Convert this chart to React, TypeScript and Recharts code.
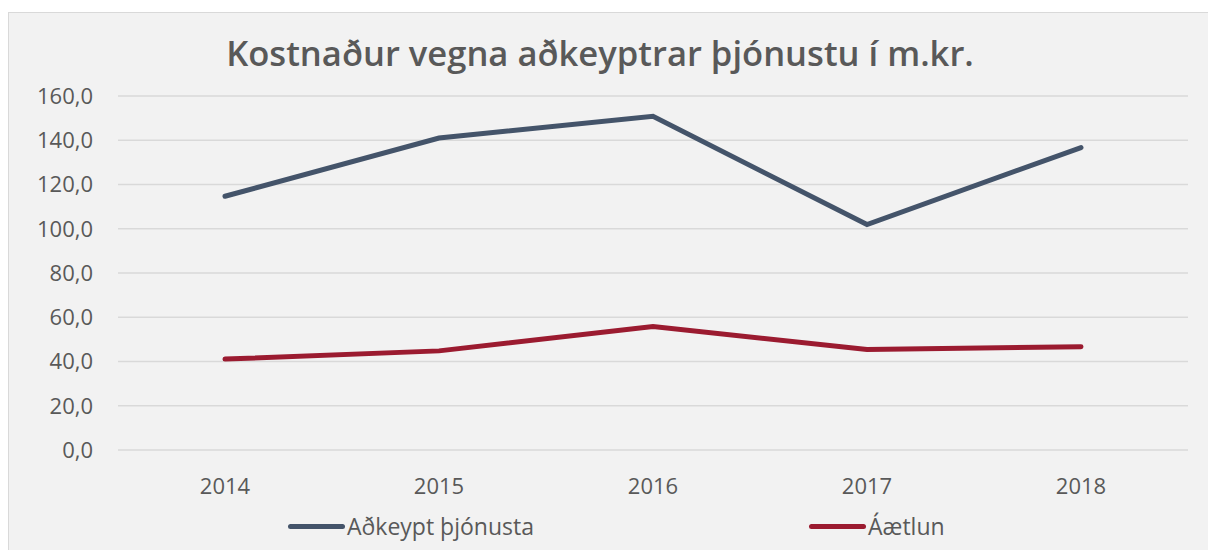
import React from 'react'
import { LineChart, Line, XAxis, YAxis, CartesianGrid } from 'recharts'

const years = ['2014', '2015', '2016', '2017', '2018']
const adkeypt = [114.7, 141.0, 150.8, 101.9, 136.7]
const aaetlun = [41.1, 44.8, 55.8, 45.4, 46.7]
const yTicks = [0, 20, 40, 60, 80, 100, 120, 140, 160]
const seriesNames = ['Aðkeypt þjónusta', 'Áætlun']

const BLUE = '#44546a'
const RED = '#9b1b30'
const TEXT = '#595959'
const FONT = '"Open Sans", "Noto Sans", sans-serif'

const data = years.map((y, i) => ({ year: y, adkeypt: adkeypt[i], aaetlun: aaetlun[i] }))

const legendItems = [
  { name: seriesNames[0], color: BLUE, left: 288 },
  { name: seriesNames[1], color: RED, left: 809 },
]

export default function App() {
  return (
    <div style={{ position: 'absolute', left: 0, top: 0, width: 1208, height: 550, background: '#fff', overflow: 'hidden' }}>
      <div
        style={{
          position: 'absolute',
          left: 8,
          top: 12,
          width: 1210,
          height: 545,
          background: '#f2f2f2',
          border: '1px solid #d9d9d9',
        }}
      />
      <div
        style={{
          position: 'absolute',
          left: 0,
          width: 1200,
          top: 29,
          textAlign: 'center',
          fontFamily: FONT,
          fontWeight: 600,
          fontSize: 34.6,
          lineHeight: '48px',
          color: TEXT,
          whiteSpace: 'nowrap',
        }}
      >
        Kostnaður vegna aðkeyptrar þjónustu í m.kr.
      </div>
      <div style={{ position: 'absolute', left: 0, top: 0 }}>
        <LineChart width={1208} height={550} data={data} margin={{ top: 96, right: 20, bottom: 70, left: 0 }}>
          <CartesianGrid vertical={false} stroke="#d9d9d9" strokeWidth={1.5} />
          <XAxis
            dataKey="year"
            height={30}
            axisLine={false}
            tickLine={false}
            tickMargin={22}
            padding={{ left: 107, right: 107 }}
            tick={{ fill: TEXT, fontSize: 22, fontFamily: FONT }}
          />
          <YAxis
            width={118}
            domain={[0, 160]}
            ticks={yTicks}
            axisLine={false}
            tickLine={false}
            tickMargin={19}
            tickFormatter={(v: number) => v.toFixed(1).replace('.', ',')}
            tick={{ fill: TEXT, fontSize: 22, fontFamily: FONT }}
          />
          <Line
            dataKey="adkeypt"
            name={seriesNames[0]}
            stroke={BLUE}
            strokeWidth={5}
            dot={false}
            strokeLinecap="round"
            isAnimationActive={false}
          />
          <Line
            dataKey="aaetlun"
            name={seriesNames[1]}
            stroke={RED}
            strokeWidth={5}
            dot={false}
            strokeLinecap="round"
            isAnimationActive={false}
          />
        </LineChart>
      </div>
      {legendItems.map((item) => (
        <div
          key={item.name}
          style={{
            position: 'absolute',
            left: item.left,
            top: 510,
            height: 32,
            display: 'flex',
            alignItems: 'center',
            fontSize: 23,
            color: TEXT,
            fontFamily: FONT,
            whiteSpace: 'nowrap',
          }}
        >
          <span style={{ display: 'inline-block', width: 57, height: 5, borderRadius: 3, background: item.color, marginRight: 2 }} />
          {item.name}
        </div>
      ))}
    </div>
  )
}
